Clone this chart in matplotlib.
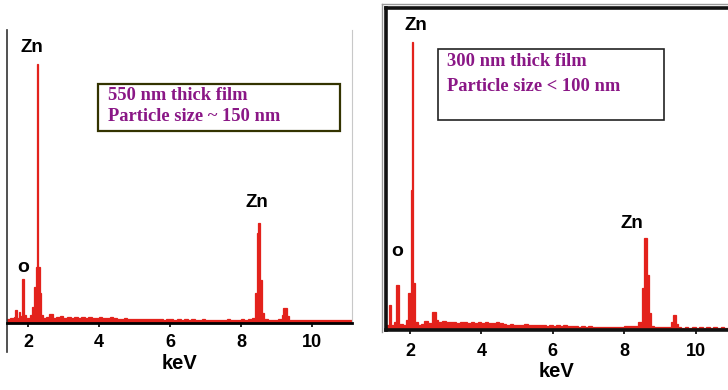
import matplotlib
matplotlib.use("Agg")
import matplotlib.pyplot as plt
from matplotlib.patches import Rectangle
from matplotlib.lines import Line2D

# ---------------- data ----------------
# EDS spectrum, 550 nm film: left bin edges (keV), last right edge, counts per bin
film1_edges = [1.41, 1.50, 1.60, 1.63, 1.68, 1.74, 1.79, 1.84, 1.90, 1.95,
               2.05, 2.12, 2.17, 2.22, 2.25, 2.29, 2.33, 2.37, 2.42, 2.50,
               2.60, 2.70, 2.80, 2.90, 3.00, 3.10, 3.20, 3.30, 3.40, 3.50,
               3.60, 3.70, 3.80, 3.90, 4.00, 4.10, 4.20, 4.30, 4.40, 4.50,
               4.60, 4.70, 4.80, 4.90, 5.00, 5.10, 5.20, 5.30, 5.40, 5.50,
               5.60, 5.70, 5.80, 5.90, 6.00, 6.10, 6.20, 6.30, 6.40, 6.50,
               6.60, 6.70, 6.80, 6.90, 7.00, 7.10, 7.20, 7.30, 7.40, 7.50,
               7.60, 7.70, 7.80, 7.90, 8.00, 8.10, 8.20, 8.30, 8.40, 8.45,
               8.49, 8.54, 8.59, 8.65, 8.75, 8.85, 8.95, 9.05, 9.15, 9.20,
               9.30, 9.35, 9.45, 9.55, 9.65, 9.75, 9.85, 9.95, 10.05, 10.15,
               10.25, 10.35, 10.45, 10.55, 10.65, 10.75, 10.85, 10.95,
               11.13]
film1_counts = [40, 50, 60, 130, 50, 110, 70, 440, 80, 50,
                80, 160, 360, 560, 2590, 560, 300, 80, 50, 60,
                90, 50, 60, 70, 50, 60, 55, 60, 50, 65,
                55, 60, 50, 55, 60, 50, 55, 60, 50, 45,
                40, 50, 45, 40, 45, 40, 40, 45, 40, 40,
                45, 40, 35, 40, 40, 35, 40, 35, 40, 35,
                40, 35, 35, 40, 35, 35, 30, 35, 35, 30,
                40, 35, 30, 35, 40, 35, 40, 50, 300, 900,
                1000, 430, 100, 40, 35, 30, 35, 40, 80, 150,
                70, 35, 30, 35, 30, 30, 30, 35, 30, 30,
                30, 35, 30, 30, 30, 35, 30, 30]

# EDS spectrum, 300 nm film
film2_edges = [1.33, 1.42, 1.47, 1.55, 1.62, 1.70, 1.80, 1.90, 1.95, 2.02,
               2.06, 2.10, 2.15, 2.22, 2.30, 2.40, 2.50, 2.62, 2.72, 2.80,
               2.90, 3.00, 3.10, 3.20, 3.30, 3.40, 3.50, 3.60, 3.70, 3.80,
               3.90, 4.00, 4.10, 4.20, 4.30, 4.40, 4.50, 4.60, 4.70, 4.80,
               4.90, 5.00, 5.10, 5.20, 5.30, 5.40, 5.50, 5.60, 5.70, 5.80,
               5.90, 6.00, 6.10, 6.20, 6.30, 6.40, 6.50, 6.60, 6.70, 6.80,
               6.90, 7.00, 7.10, 7.20, 7.30, 7.40, 7.50, 7.60, 7.70, 7.80,
               7.90, 8.00, 8.10, 8.20, 8.30, 8.40, 8.50, 8.56, 8.64, 8.70,
               8.76, 8.85, 8.95, 9.05, 9.15, 9.25, 9.30, 9.38, 9.46, 9.52,
               9.60, 9.70, 9.80, 9.90, 10.00, 10.10, 10.20, 10.30, 10.40, 10.50,
               10.60, 10.70, 10.80,
               10.91]
film2_counts = [50, 250, 50, 80, 450, 60, 50, 100, 370, 1400,
                2880, 470, 80, 50, 60, 90, 70, 180, 100, 80,
                90, 80, 85, 80, 75, 80, 85, 75, 80, 70,
                80, 75, 80, 70, 75, 80, 70, 60, 55, 60,
                55, 50, 55, 60, 50, 55, 50, 55, 50, 45,
                50, 45, 50, 45, 50, 40, 45, 40, 35, 40,
                35, 40, 35, 30, 35, 30, 35, 30, 35, 30,
                35, 40, 45, 40, 45, 80, 420, 920, 550, 170,
                40, 30, 35, 30, 35, 30, 80, 150, 60, 30,
                25, 30, 25, 30, 25, 30, 25, 30, 25, 30,
                25, 30, 25]

xticks = [2, 4, 6, 8, 10]
xtick_labels = ["2", "4", "6", "8", "10"]
box_text_1 = ["550 nm thick film", "Particle size ~ 150 nm"]
box_text_2 = ["300 nm thick film", "Particle size < 100 nm"]

# ---------------- style ----------------
W, H = 728, 390
RED = "#e3221c"
PURPLE = "#8a1786"
SANS = ["Liberation Sans", "DejaVu Sans"]
SERIF = ["Liberation Serif", "DejaVu Serif"]
BOX_FS = 13.3

fig = plt.figure(figsize=(W / 100, H / 100), dpi=100)


def px_axes(x0, y0, x1, y1):
    return fig.add_axes([x0 / W, 1 - y1 / H, (x1 - x0) / W, (y1 - y0) / H])


def style_ticks(ax, pad):
    ax.set_xticks(xticks)
    ax.set_xticklabels(xtick_labels, fontsize=13, fontweight="bold", family=SANS)
    ax.tick_params(axis="x", direction="out", length=3, width=1.2, pad=pad)
    ax.set_yticks([])
    ax.set_xlabel("keV", fontsize=14.5, fontweight="bold", family=SANS, labelpad=2)


# ---------------- left panel ----------------
ax1 = px_axes(7, 30, 352, 323)
ax1.stairs(film1_counts, film1_edges, fill=True, facecolor=RED,
           edgecolor=RED, linewidth=0.9)
ax1.set_xlim(film1_edges[0], film1_edges[-1])
ax1.set_ylim(0, 2930)
style_ticks(ax1, pad=5)
ax1.spines["top"].set_visible(False)
ax1.spines["left"].set_visible(False)
ax1.spines["right"].set_color("#c8c8c8")
ax1.spines["right"].set_linewidth(0.8)
ax1.spines["bottom"].set_linewidth(2)
ax1.spines["bottom"].set_zorder(3)
ax1.add_line(Line2D([0, 0], [-0.1, 1], transform=ax1.transAxes, color="#333333",
                    lw=1.2, clip_on=False))

lbl = dict(fontsize=13.5, fontweight="bold", family=SANS, ha="center", va="center")
olbl = dict(fontsize=14, fontweight="bold", family=SANS, ha="center", va="center")
ax1.text(2.11, 2750, "Zn", **lbl)
ax1.text(8.45, 1210, "Zn", **lbl)
ax1.text(1.86, 560, "o", **olbl)

ax1.add_patch(Rectangle((0.264, 0.655), 0.701, 0.161, transform=ax1.transAxes,
                        fill=False, edgecolor="#333300", lw=1.6))
ax1.text(0.293, 0.775, box_text_1[0], transform=ax1.transAxes, color=PURPLE,
         fontsize=BOX_FS, fontweight="bold", family=SERIF, va="center", ha="left")
ax1.text(0.293, 0.705, box_text_1[1], transform=ax1.transAxes, color=PURPLE,
         fontsize=BOX_FS, fontweight="bold", family=SERIF, va="center", ha="left")

# ---------------- right panel ----------------
ax2 = px_axes(386, 8, 728, 330)
ax2.stairs(film2_counts, film2_edges, fill=True, facecolor=RED,
           edgecolor=RED, linewidth=0.9)
ax2.set_xlim(film2_edges[0], film2_edges[-1])
ax2.set_ylim(0, 3220)
style_ticks(ax2, pad=6)
for s in ("left", "top", "bottom"):
    ax2.spines[s].set_linewidth(2.6)
    ax2.spines[s].set_color("#111111")
    ax2.spines[s].set_zorder(3)
ax2.spines["right"].set_visible(False)
# light outer frame
fig.add_artist(Line2D([382 / W, 382 / W], [1 - 332 / H, 1 - 4 / H], color="#9a9a9a", lw=1))
fig.add_artist(Line2D([382 / W, 1], [1 - 4 / H, 1 - 4 / H], color="#9a9a9a", lw=1))

ax2.text(2.17, 3050, "Zn", **lbl)
ax2.text(8.22, 1060, "Zn", **lbl)
ax2.text(1.64, 790, "o", **olbl)

ax2.add_patch(Rectangle((0.152, 0.652), 0.661, 0.221, transform=ax2.transAxes,
                        fill=False, edgecolor="#222222", lw=1.2))
ax2.text(0.178, 0.834, box_text_2[0], transform=ax2.transAxes, color=PURPLE,
         fontsize=BOX_FS, fontweight="bold", family=SERIF, va="center", ha="left")
ax2.text(0.178, 0.756, box_text_2[1], transform=ax2.transAxes, color=PURPLE,
         fontsize=BOX_FS, fontweight="bold", family=SERIF, va="center", ha="left")

fig.savefig("out.png", dpi=100)
